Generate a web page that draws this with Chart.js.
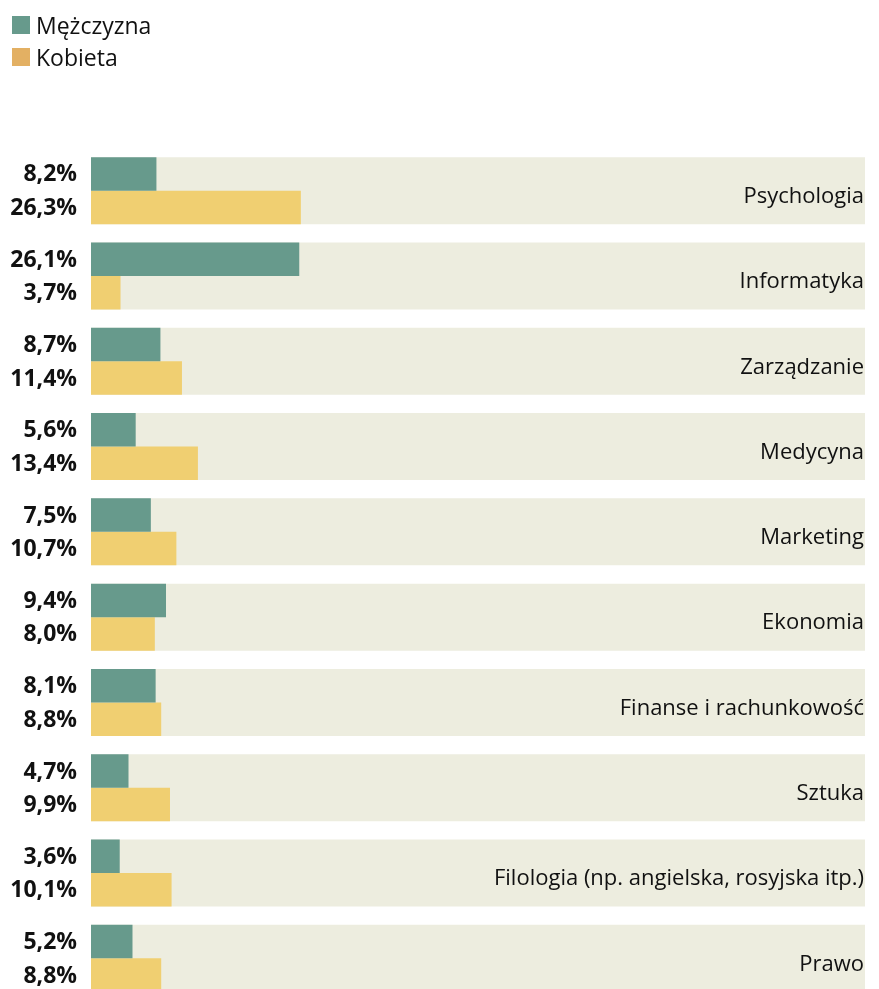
<!DOCTYPE html>
<html lang="pl">
<head>
<meta charset="utf-8">
<script src="https://cdn.jsdelivr.net/npm/chart.js@4.4.1/dist/chart.umd.min.js"></script>
<style>
    body { margin: 0; background: #fff; overflow: hidden; font-family: "Open Sans", sans-serif; }
    .wrap { position: relative; width: 879px; height: 1001px; }
    .legenda { position: absolute; left: 12px; top: 9px; font-size: 23px; color: #111; }
    .legenda div { display: flex; align-items: center; height: 32px; }
    .legenda span { display: inline-block; width: 18px; height: 18px; margin-right: 6px; }
</style>
</head>
<body>
<div class="wrap">
    <div class="legenda">
        <div><span style="background:#679A8C"></span>Mężczyzna</div>
        <div><span style="background:#E3B063"></span>Kobieta</div>
    </div>
    <canvas id="kierunkiChart"></canvas>
</div>
<script>
// Dane
const kategorie = ['Psychologia', 'Informatyka', 'Zarządzanie', 'Medycyna', 'Marketing',
    'Ekonomia', 'Finanse i rachunkowość', 'Sztuka', 'Filologia (np. angielska, rosyjska itp.)', 'Prawo'];
const mezczyzna = [8.2, 26.1, 8.7, 5.6, 7.5, 9.4, 8.1, 4.7, 3.6, 5.2];
const kobieta = [26.3, 3.7, 11.4, 13.4, 10.7, 8.0, 8.8, 9.9, 10.1, 8.8];
const maksimum = 97;
const tlo = kategorie.map(() => maksimum);

// Etykiety z wartościami po lewej i nazwy kierunków po prawej
const etykietyPlugin = {
    id: 'etykiety',
    afterDatasetsDraw(chart) {
        const ctx = chart.ctx;
        const area = chart.chartArea;
        ctx.save();
        ctx.fillStyle = '#111';
        ctx.textBaseline = 'middle';

        ctx.font = 'bold 23px "Open Sans", sans-serif';
        ctx.textAlign = 'right';
        [0, 1].forEach(i => {
            const meta = chart.getDatasetMeta(i);
            meta.data.forEach((bar, j) => {
                const v = chart.data.datasets[i].data[j];
                ctx.fillText(v.toFixed(1).replace('.', ',') + '%', area.left - 14, bar.y + 1);
            });
        });

        ctx.font = '22px "Open Sans", sans-serif';
        const y = chart.scales.y;
        kategorie.forEach((k, j) => {
            ctx.fillText(k, area.right - 1, y.getPixelForValue(j) + 6);
        });
        ctx.restore();
    }
};

new Chart(document.getElementById('kierunkiChart'), {
    type: 'bar',
    data: {
        labels: kategorie,
        datasets: [{
            label: 'Mężczyzna',
            data: mezczyzna,
            backgroundColor: '#679A8C',
            categoryPercentage: 0.785,
            barPercentage: 1,
            order: 1
        }, {
            label: 'Kobieta',
            data: kobieta,
            backgroundColor: '#F0CF71',
            categoryPercentage: 0.785,
            barPercentage: 1,
            order: 1
        }, {
            label: 'tlo',
            data: tlo,
            backgroundColor: '#EDEDDF',
            grouped: false,
            categoryPercentage: 0.785,
            barPercentage: 1,
            order: 2
        }]
    },
    options: {
        indexAxis: 'y',
        responsive: true,
        maintainAspectRatio: false,
        animation: false,
        layout: { padding: { left: 91, right: 14, top: 148, bottom: 0 } },
        scales: {
            x: { display: false, min: 0, max: maksimum },
            y: { display: false }
        },
        plugins: {
            legend: { display: false },
            tooltip: { enabled: false }
        }
    },
    plugins: [etykietyPlugin]
});
</script>
</body>
</html>
